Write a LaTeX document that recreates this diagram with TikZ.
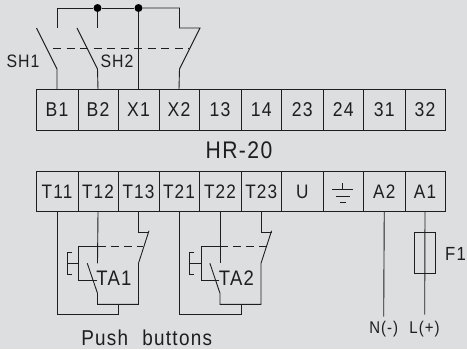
\documentclass[tikz,border=0pt]{standalone}
\usepackage{fontspec}
\setmainfont[LetterSpace=6,FakeStretch=0.88]{Liberation Sans}
\definecolor{panel}{HTML}{DDDEE0}
\definecolor{wire}{HTML}{1E1E1E}
\tikzset{
  cell/.style={draw=wire,line width=0.9pt,minimum height=40.5pt,inner sep=0pt,font=\fontsize{20}{22}\selectfont,text=wire},
  tcell/.style={cell,font=\fontsize{19.5}{22}\selectfont},
  lbl/.style={inner sep=0pt,text=wire,font=\fontsize{18}{20}\selectfont},
  wiring/.style={draw=wire,line width=0.9pt},
  dot/.style={circle,fill=black,inner sep=0pt,minimum size=8pt}
}
\begin{document}
\begin{tikzpicture}[x=1pt,y=-1pt]
      \fill[panel] (0,0) rectangle (467,349);
      \useasboundingbox (0,0) rectangle (467,349);
      \draw
        (57,110) node[cell,minimum width=42pt] (B1){B1}
        (98,110) node[cell,minimum width=40pt] (B2){B2}
        (138.5,110) node[cell,minimum width=41pt] (X1){X1}
        (179,110) node[cell,minimum width=40pt] (X2){X2}
        (220,110) node[cell,minimum width=42pt] (13){13}
        (261.25,110) node[cell,minimum width=40.5pt] (14){14}
        (302.25,110) node[cell,minimum width=41.5pt] (23){23}
        (343.25,110) node[cell,minimum width=40.5pt] (24){24}
        (384.25,110) node[cell,minimum width=41.5pt] (31){31}
        (425,110) node[cell,minimum width=40pt] (32){32};
      \draw
        (57,191.5) node[tcell,minimum width=42pt] (T11){T11}
        (98,191.5) node[tcell,minimum width=40pt] (T12){T12}
        (138.5,191.5) node[tcell,minimum width=41pt] (T13){T13}
        (179,191.5) node[tcell,minimum width=40pt] (T21){T21}
        (220,191.5) node[tcell,minimum width=42pt] (T22){T22}
        (261.25,191.5) node[tcell,minimum width=40.5pt] (T23){T23}
        (302.25,191.5) node[tcell,minimum width=41.5pt] (U){U}
        (343.25,191.5) node[tcell,minimum width=40.5pt] (PE){}
        (384.25,191.5) node[tcell,minimum width=41.5pt] (A2){A2}
        (425,191.5) node[tcell,minimum width=40pt] (A1){A1};
      \node[lbl] (HR) at (239,150) {\fontsize{24}{26}\selectfont HR-20};
      \node[lbl] (SH1) at (23,61) {SH1};
      \node[lbl] (SH2) at (117,61) {SH2};
      \node[lbl] (TA1) at (114,278.5) {\fontsize{21}{22}\selectfont TA1};
      \node[lbl] (TA2) at (236.5,278.5) {\fontsize{21}{22}\selectfont TA2};
      \node[lbl] (F1) at (455.5,253.5) {\fontsize{19}{20}\selectfont F1};
      \node[lbl] (N) at (383.7,329.5) {\fontsize{17}{18}\selectfont N(-)};
      \node[lbl] (L) at (424.5,329.5) {\fontsize{17}{18}\selectfont L(+)};
      \node[lbl] (PB) at (146.7,337.5) {\fontsize{21.5}{22}\selectfont Push\hspace{0.35em} buttons};
      \node[dot] (J1) at (97.5,8) {};
      \node[dot] (J2) at (138.5,8) {};
      % SH contacts
      \begin{scope}[wiring]
        \draw (B1.north) -- (57,69) -- (36.5,28);
        \draw (57,28) |- (J1);
        \draw (B2.north) -- (97.5,69) -- (77,28);
        \draw (J1) -- (97.5,28);
        \draw (J1) -- (J2);
        \draw (X1.north) -- (J2);
        \draw (J2) -| (179.5,28) -- (200,28) -- (179.5,69) -- (X2.north);
        \draw[dash pattern=on 8pt off 5.5pt] (53,48.5) -- (189,48.5);
      \end{scope}
      % TA1
      \begin{scope}[wiring]
        \draw (T11.south) |- (118.3,314.7) -- (118.3,304.3);
        \draw (T12.south) -- (97.5,263.3);
        \draw (87.3,263.3) -- (97.5,293.3) -- (97.5,304.3) -| (138.5,263.3) -- (149,230.7);
        \draw (T13.south) |- (149,232.3);
        \draw (96.7,280.7) -| (78.5,246.5) -- (97.5,246.5);
        \draw[dash pattern=on 8pt off 5pt] (97.5,246.5) -- (143,246.5);
        \draw (78.5,263.3) -- (67,263.3);
        \draw (71.7,252.7) -| (67,274) -- (71.7,274);
      \end{scope}
      % TA2
      \begin{scope}[wiring]
        \draw (T21.south) |- (241.3,314.7) -- (241.3,304.3);
        \draw (T22.south) -- (220,263.3);
        \draw (209.9,263.3) -- (220,293.3) -- (220,304.3) -| (261,263.3) -- (271.6,230.7);
        \draw (T23.south) |- (271.6,232.3);
        \draw (219.3,280.7) -| (201.1,246.5) -- (220,246.5);
        \draw[dash pattern=on 8pt off 5pt] (220,246.5) -- (265.6,246.5);
        \draw (201.1,263.3) -- (189.6,263.3);
        \draw (194.3,252.7) -| (189.6,274) -- (194.3,274);
      \end{scope}
      % ground and supply
      \begin{scope}[wiring]
        \draw (342.7,183.3) -- (342.7,189.5);
        \draw (332.3,189.5) -- (353,189.5);
        \draw (336.3,196) -- (349.7,196);
        \draw (339.7,202.7) -- (346.3,202.7);
        \draw (A2.south) -- (383.7,316.7);
        \draw (A1.south) -- (424.7,314.7);
        \draw (414.3,232.3) rectangle (435.3,273.7);
      \end{scope}
    \end{tikzpicture}
\end{document}
